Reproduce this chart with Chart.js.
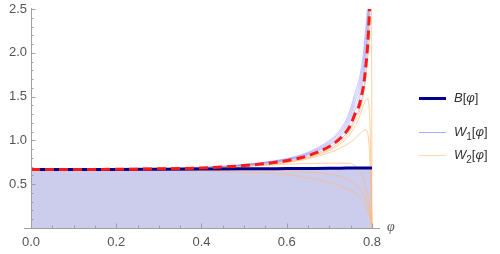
<!DOCTYPE html>
<html>
<head>
<meta charset="utf-8">
<script src="https://cdn.jsdelivr.net/npm/chart.js@4.4.0/dist/chart.umd.min.js"></script>
<style>
  body { margin: 0; background: #fff; }
  #wrap { position: relative; width: 500px; height: 254px; }
  #chart { position: absolute; left: 0; top: 0; }
  .leg { position: absolute; left: 0; top: 0; width: 500px; height: 254px; font-family: "Liberation Sans", Arial, sans-serif; font-size: 13px; color: #333; }
  .leg i { font-style: italic; }
  .sw { position: absolute; left: 419px; width: 27px; }
  .lt { position: absolute; left: 454px; line-height: 16px; white-space: nowrap; }
  .lt sub { font-size: 10px; line-height: 0; }
  #phiLabel { position: absolute; left: 387px; top: 219px; font-family: "Liberation Serif", serif; font-style: italic; font-size: 14px; color: #555; }
</style>
</head>
<body>
<div id="wrap">
  <canvas id="chart" width="500" height="254"></canvas>
  <div class="leg">
    <div class="sw" style="top:97px;height:3px;background:#00008f"></div>
    <div class="lt" style="top:90px"><i>B</i>[<i>φ</i>]</div>
    <div class="sw" style="top:132px;height:1px;background:#aaaaff"></div>
    <div class="lt" style="top:124px"><i>W</i><sub>1</sub>[<i>φ</i>]</div>
    <div class="sw" style="top:155px;height:1px;background:#ffd9b8"></div>
    <div class="lt" style="top:147px"><i>W</i><sub>2</sub>[<i>φ</i>]</div>
  </div>
  <div id="phiLabel">φ</div>
</div>
<script>
// sample points on the φ axis
var phi = [0, 0.1, 0.2, 0.3, 0.4, 0.5, 0.55, 0.6, 0.65, 0.7, 0.72, 0.74, 0.75, 0.76, 0.77, 0.775, 0.78, 0.785, 0.79, 0.795, 0.798, 0.8];

var bCurve = [0.667, 0.668, 0.669, 0.671, 0.673, 0.675, 0.677, 0.678, 0.680, 0.682, 0.683, 0.684, 0.684, 0.685, 0.685, 0.685, 0.686, 0.686, 0.686, 0.686, 0.686, 0.686];
var redDashed = [0.667, 0.668, 0.670, 0.675, 0.685, 0.713, 0.736, 0.768, 0.825, 0.93, 1.0, 1.10, 1.18, 1.30, 1.40, 1.50, 1.62, 1.82, 2.10, 2.55, null, null];

// W1 family (thin blue)
var w1a = [0.667, 0.668, 0.670, 0.676, 0.686, 0.715, 0.739, 0.773, 0.833, 0.944, 1.018, 1.128, 1.218, 1.348, 1.46, 1.566, 1.696, 1.91, 2.19, 2.61, null, null];
var w1b = [0.667, 0.668, 0.670, 0.676, 0.687, 0.718, 0.743, 0.778, 0.841, 0.958, 1.036, 1.156, 1.256, 1.396, 1.52, 1.632, 1.772, 2.0, 2.28, 2.67, null, null];
var w1c = [0.667, 0.668, 0.671, 0.677, 0.689, 0.720, 0.746, 0.783, 0.849, 0.972, 1.054, 1.184, 1.294, 1.444, 1.58, 1.698, 1.848, 2.09, 2.37, 2.73, null, null];
var w1d = [0.667, 0.668, 0.671, 0.677, 0.690, 0.723, 0.750, 0.788, 0.857, 0.986, 1.072, 1.212, 1.332, 1.492, 1.64, 1.764, 1.924, 2.18, 2.46, 2.79, null, null];
var w1e = [0.667, 0.668, 0.671, 0.678, 0.691, 0.725, 0.753, 0.793, 0.865, 1.0, 1.09, 1.24, 1.37, 1.54, 1.70, 1.83, 2.0, 2.27, 2.55, 2.85, null, null];
var w1f = [0.667, 0.668, 0.670, 0.675, 0.684, 0.711, 0.733, 0.764, 0.819, 0.92, 0.987, 1.079, 1.152, 1.264, 1.355, 1.45, 1.563, 1.753, 2.03, 2.5, null, null];

// W2 family (thin orange)
var w2a = [0.667, 0.668, 0.670, 0.674, 0.683, 0.708, 0.728, 0.757, 0.808, 0.90, 0.96, 1.05, 1.12, 1.22, 1.32, 1.40, 1.52, 1.70, 1.95, 2.35, 4.0, 0];
var w2b = [0.667, 0.668, 0.670, 0.674, 0.682, 0.706, 0.725, 0.752, 0.80, 0.885, 0.94, 1.02, 1.08, 1.16, 1.26, 1.33, 1.40, 1.46, 1.48, 1.2, 0.6, 0];
var w2c = [0.667, 0.668, 0.669, 0.673, 0.680, 0.702, 0.72, 0.745, 0.79, 0.86, 0.9, 0.95, 0.98, 1.02, 1.07, 1.09, 1.11, 1.12, 1.08, 0.8, 0.4, 0];
var w2d = [0.667, 0.668, 0.669, 0.672, 0.679, 0.70, 0.715, 0.728, 0.737, 0.74, 0.74, 0.738, 0.735, 0.71, 0.66, 0.62, 0.56, 0.46, 0.36, 0.22, 0.11, 0];
var w2e = [0.667, 0.667, 0.667, 0.667, 0.666, 0.663, 0.66, 0.656, 0.64, 0.615, 0.595, 0.565, 0.54, 0.51, 0.46, 0.43, 0.39, 0.34, 0.27, 0.17, 0.08, 0];
var w2f = [0.667, 0.666, 0.664, 0.66, 0.652, 0.638, 0.627, 0.612, 0.575, 0.52, 0.49, 0.45, 0.43, 0.40, 0.36, 0.335, 0.30, 0.26, 0.20, 0.12, 0.06, 0];

var xTickValues = [0, 0.2, 0.4, 0.6, 0.8];
var xTickLabels = ["0.0", "0.2", "0.4", "0.6", "0.8"];
var yTickValues = [0.5, 1.0, 1.5, 2.0, 2.5];
var yTickLabels = ["0.5", "1.0", "1.5", "2.0", "2.5"];

function pts(arr) {
  return phi.map(function (p, i) { return { x: p, y: arr[i] }; });
}

function thin(arr, color) {
  return { data: pts(arr), borderColor: color, borderWidth: 0.8, fill: false, pointRadius: 0, cubicInterpolationMode: 'monotone' };
}

var W1COL = 'rgba(110,110,255,0.45)';
var W2COL = 'rgba(255,185,115,0.85)';

// Mathematica-like axes with inward ticks
var axesPlugin = {
  id: 'mmaAxes',
  afterDraw: function (chart) {
    var ctx = chart.ctx, xs = chart.scales.x, ys = chart.scales.y;
    var x0 = xs.getPixelForValue(0), y0 = ys.getPixelForValue(0);
    ctx.save();
    ctx.strokeStyle = '#a0a0a0';
    ctx.lineWidth = 1;
    ctx.beginPath();
    ctx.moveTo(x0 - 7, y0 + 0.5); ctx.lineTo(chart.chartArea.right, y0 + 0.5);
    ctx.moveTo(x0 + 0.5, y0); ctx.lineTo(x0 + 0.5, chart.chartArea.top - 1);
    var i, px, py;
    for (i = 0; i <= 16; i++) {
      px = Math.round(xs.getPixelForValue(i * 0.05)) + 0.5;
      var len = (i % 4 === 0) ? 4.5 : 2.5;
      ctx.moveTo(px, y0); ctx.lineTo(px, y0 - len);
    }
    for (i = 1; i <= 25; i++) {
      py = Math.round(ys.getPixelForValue(i * 0.1)) + 0.5;
      var len2 = (i % 5 === 0) ? 4.5 : 2.5;
      ctx.moveTo(x0, py); ctx.lineTo(x0 + len2, py);
    }
    ctx.stroke();
    ctx.fillStyle = '#555';
    ctx.font = '13px "Liberation Sans", Arial, sans-serif';
    ctx.textAlign = 'center';
    ctx.textBaseline = 'middle';
    xTickValues.forEach(function (v, k) {
      ctx.fillText(xTickLabels[k], xs.getPixelForValue(v), y0 + 14);
    });
    ctx.textAlign = 'right';
    yTickValues.forEach(function (v, k) {
      ctx.fillText(yTickLabels[k], x0 - 4, ys.getPixelForValue(v));
    });
    ctx.restore();
  }
};

new Chart(document.getElementById("chart"), {
  type: 'line',
  data: {
    datasets: [
      { data: pts(redDashed), borderColor: '#ff1a1a', borderWidth: 3, borderDash: [9, 5], fill: false, pointRadius: 0, cubicInterpolationMode: 'monotone' },
      { data: pts(bCurve), borderColor: '#00008f', borderWidth: 3, backgroundColor: 'rgba(204,204,236,1)', fill: 'origin', pointRadius: 0, cubicInterpolationMode: 'monotone' },
      thin(w2a, W2COL), thin(w2b, W2COL), thin(w2c, W2COL), thin(w2d, W2COL), thin(w2e, W2COL), thin(w2f, W2COL),
      thin(w1a, W1COL), thin(w1b, W1COL), thin(w1c, W1COL), thin(w1d, W1COL), thin(w1e, W1COL), thin(w1f, W1COL)
    ]
  },
  options: {
    responsive: false,
    animation: false,
    layout: { padding: { left: 31, right: 120, top: 9, bottom: 26 } },
    scales: {
      x: { type: 'linear', min: 0, max: 0.8188, display: false },
      y: { type: 'linear', min: 0, max: 2.5, display: false }
    },
    plugins: {
      legend: { display: false },
      tooltip: { enabled: false },
      filler: { drawTime: 'beforeDatasetsDraw' }
    }
  },
  plugins: [axesPlugin]
});
</script>
</body>
</html>
